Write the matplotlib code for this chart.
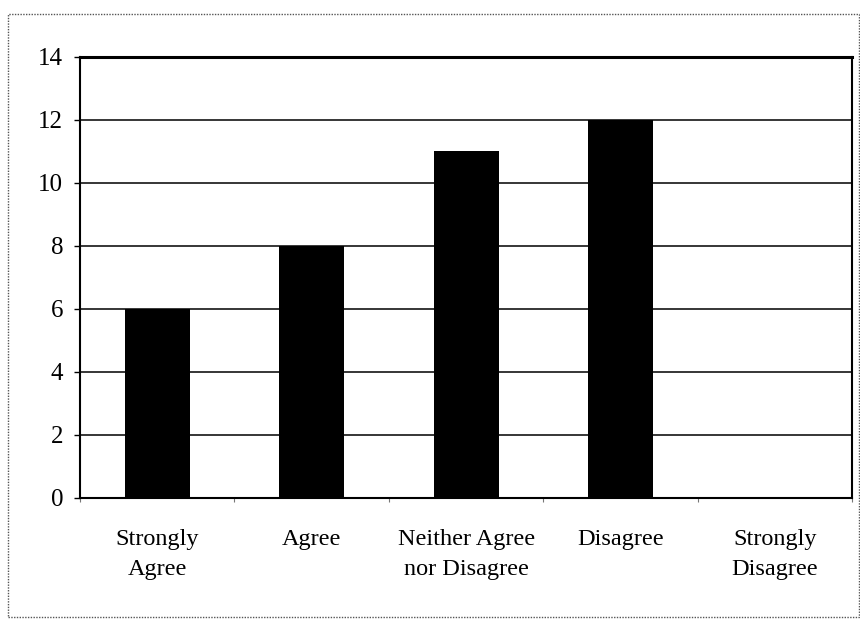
import matplotlib
matplotlib.use("Agg")
import matplotlib.pyplot as plt
from matplotlib.patches import Rectangle
import numpy as np

categories = ["Strongly\nAgree", "Agree", "Neither Agree\nnor Disagree", "Disagree", "Strongly\nDisagree"]
values = [6, 8, 11, 12, 0]
yticks = [0, 2, 4, 6, 8, 10, 12, 14]

plt.rcParams['font.family'] = ['Liberation Serif', 'DejaVu Serif']

fig = plt.figure(figsize=(8.6, 6.24), dpi=100)
ax = fig.add_axes([0.093, 0.202, 0.898, 0.707])

x = np.arange(len(categories))
ax.bar(x, values, width=0.42, color='black', zorder=3)

ax.set_xlim(-0.5, len(categories) - 0.5)
ax.set_ylim(0, 14)
ax.set_yticks(yticks)
ax.set_yticklabels([str(t) for t in yticks], fontsize=18)
ax.yaxis.grid(True, color='black', linewidth=1.1, zorder=1)
ax.set_axisbelow(True)

ax.set_xticks(x)
ax.set_xticklabels(categories, fontsize=17.5, linespacing=1.6)
ax.tick_params(axis='x', length=0, pad=22)
ax.set_xticks(np.arange(-0.5, len(categories)), minor=True)
ax.tick_params(axis='x', which='minor', length=3, width=0.8, color='#777777')
ax.tick_params(axis='y', length=4, width=1, pad=8, color='black')

for s in ['left', 'right', 'bottom']:
    ax.spines[s].set_linewidth(1.5)
    ax.spines[s].set_color('black')
ax.spines['top'].set_linewidth(2.2)

# outer chart border
fig.patches.append(Rectangle((0.009, 0.011), 0.99, 0.966, transform=fig.transFigure,
                             fill=False, edgecolor='#555555', linewidth=1.0,
                             linestyle=(0, (1, 1))))

fig.savefig("out.png", dpi=100, facecolor='white')
